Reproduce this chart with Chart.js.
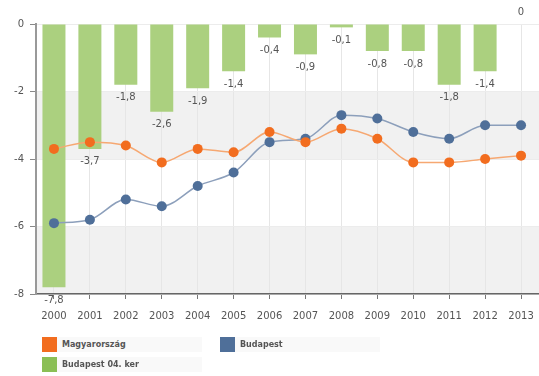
<!DOCTYPE html>
<html>
<head>
<meta charset="utf-8">
<script src="https://cdn.jsdelivr.net/npm/chart.js@4/dist/chart.umd.min.js"></script>
<style>
  html, body { margin: 0; padding: 0; background: #fff; overflow: hidden; }
  #wrap { position: relative; width: 539px; height: 376px; overflow: hidden; }
  canvas { display: block; }
  #legend { position: absolute; left: 42px; top: 337px; width: 420px; font: bold 8px "DejaVu Sans", sans-serif; color: #555; }
  .item { position: absolute; height: 15px; display: flex; align-items: center; }
  .sw { width: 15px; height: 15px; }
  .txt { height: 15px; line-height: 15px; width: 140px; padding-left: 5px; background: #f9f9f9; }
</style>
</head>
<body>
<div id="wrap">
  <canvas id="chart" width="544" height="376"></canvas>
  <div id="legend"></div>
</div>
<script>
const years = ['2000','2001','2002','2003','2004','2005','2006','2007','2008','2009','2010','2011','2012','2013']
const magyarorszag = [-3.7, -3.5, -3.6, -4.1, -3.7, -3.8, -3.2, -3.5, -3.1, -3.4, -4.1, -4.1, -4.0, -3.9]
const budapest = [-5.9, -5.8, -5.2, -5.4, -4.8, -4.4, -3.5, -3.4, -2.7, -2.8, -3.2, -3.4, -3.0, -3.0]
const ker04 = [-7.8, -3.7, -1.8, -2.6, -1.9, -1.4, -0.4, -0.9, -0.1, -0.8, -0.8, -1.8, -1.4, 0]
const yTicks = [0, -2, -4, -6, -8]
const bands = [[-2, -4], [-6, -8]]

// szürke sávok a rajzterület mögött
const bandPlugin = {
  id: 'bands',
  beforeDraw(chart) {
    const { ctx, chartArea, scales } = chart
    ctx.save()
    ctx.fillStyle = '#f1f1f1'
    bands.forEach(([a, b]) => {
      const y1 = scales.y.getPixelForValue(a)
      const y2 = scales.y.getPixelForValue(b)
      ctx.fillRect(chartArea.left, y1, chartArea.right - chartArea.left, y2 - y1)
    })
    ctx.restore()
  }
}

// oszlopcímkék
const labelPlugin = {
  id: 'barLabels',
  afterDatasetsDraw(chart) {
    const { ctx } = chart
    const meta = chart.getDatasetMeta(2)
    ctx.save()
    ctx.font = '10px "DejaVu Sans", sans-serif'
    ctx.fillStyle = '#555'
    ctx.textAlign = 'center'
    ctx.textBaseline = 'middle'
    meta.data.forEach((bar, i) => {
      const v = ker04[i]
      const txt = v === 0 ? '0' : v.toFixed(1).replace('.', ',')
      const y = v === 0 ? bar.y - 12 : bar.y + 13
      ctx.fillText(txt, bar.x, y)
    })
    ctx.restore()
  }
}

const chart = new Chart(document.getElementById('chart'), {
  type: 'bar',
  data: {
    labels: years,
    datasets: [
      {
        type: 'line', label: 'Magyarország', data: magyarorszag,
        borderColor: '#f6a872', borderWidth: 1.5, backgroundColor: '#f26d1f',
        pointBackgroundColor: '#f26d1f', pointBorderWidth: 0, pointRadius: 5,
        tension: 0.4, cubicInterpolationMode: 'monotone', order: 1
      },
      {
        type: 'line', label: 'Budapest', data: budapest,
        borderColor: '#8c9fbb', borderWidth: 1.5, backgroundColor: '#4f6f99',
        pointBackgroundColor: '#4f6f99', pointBorderWidth: 0, pointRadius: 5,
        tension: 0.4, cubicInterpolationMode: 'monotone', order: 1
      },
      {
        label: 'Budapest 04. ker', data: ker04,
        backgroundColor: '#abd07f', legendColor: '#8bbf55',
        barPercentage: 0.64, categoryPercentage: 1, order: 2
      }
    ]
  },
  options: {
    responsive: false,
    animation: false,
    layout: { padding: { top: 24, right: 0, bottom: 52, left: 0 } },
    plugins: { legend: { display: false }, tooltip: { enabled: false } },
    scales: {
      x: {
        offset: true,
        afterFit(scale) { scale.height = 30; scale.paddingRight = 0; scale.paddingLeft = 0 },
        grid: { offset: false, color: '#e6e6e6', tickColor: '#777', tickLength: 5 },
        border: { color: '#666', width: 1.5 },
        ticks: { color: '#555', padding: 11, font: { family: 'DejaVu Sans', size: 10 }, maxRotation: 0, autoSkip: false }
      },
      y: {
        min: -8, max: 0,
        afterFit(scale) { scale.width = 36 },
        afterBuildTicks(scale) { scale.ticks = yTicks.map(v => ({ value: v })) },
        grid: { color: '#ececec', tickColor: '#888', tickLength: 6 },
        border: { color: '#999', width: 2 },
        ticks: { color: '#555', padding: 6, font: { family: 'DejaVu Sans', size: 10 } }
      }
    }
  },
  plugins: [bandPlugin, labelPlugin]
})

// jelmagyarázat
const legend = document.getElementById('legend')
const pos = [[0, 0], [178, 0], [0, 20]]
chart.data.datasets.forEach((ds, i) => {
  const el = document.createElement('div')
  el.className = 'item'
  el.style.left = pos[i][0] + 'px'
  el.style.top = pos[i][1] + 'px'
  el.innerHTML = '<div class="sw" style="background:' + (ds.legendColor || ds.backgroundColor) + '"></div><div class="txt">' + ds.label + '</div>'
  legend.appendChild(el)
})
</script>
</body>
</html>
